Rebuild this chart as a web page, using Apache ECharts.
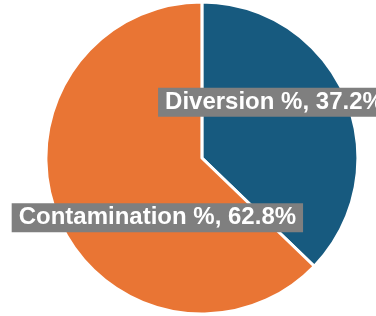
<!DOCTYPE html>
<html><head><meta charset="utf-8">
<script src="https://cdn.jsdelivr.net/npm/echarts@6/dist/echarts.min.js"></script>
<style>html,body{margin:0;padding:0;background:#fff}#c{width:376px;height:316px}</style>
</head><body><div id="c"></div>
<script>
const categories = ["Diversion %", "Contamination %"];
const values = [37.2, 62.8];
const colors = ["#175a7f", "#e97534"];
const labelOffsets = [[-2, -24], [30, 28]];

const chart = echarts.init(document.getElementById('c'), null, {renderer: 'canvas'});
chart.setOption({
  animation: false,
  series: [{
    type: 'pie',
    center: ['53.7%', '50%'],
    radius: [0, 156],
    startAngle: 90,
    clockwise: true,
    data: categories.map((n, i) => ({
      name: n, value: values[i],
      itemStyle: {color: colors[i]},
      label: {offset: labelOffsets[i]}
    })),
    itemStyle: {borderColor: '#fff', borderWidth: 3},
    label: {
      show: true, position: 'inside',
      formatter: p => p.name + ', ' + p.value.toFixed(1) + '%',
      color: '#fff', fontWeight: 'bold', fontSize: 24,
      fontFamily: 'Liberation Sans, Arial, sans-serif',
      backgroundColor: '#7f7f7f', padding: [3, 7, 2, 7]
    },
    labelLine: {show: false}
  }]
});
</script></body></html>
